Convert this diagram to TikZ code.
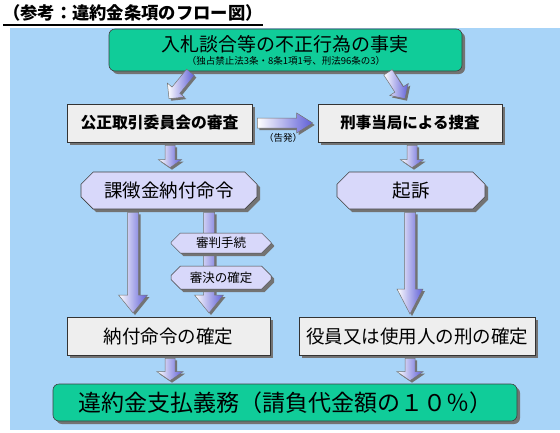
\documentclass[tikz,border=0pt]{standalone}
\usepackage{fontspec}
\setmainfont{Noto Sans CJK JP}
\usetikzlibrary{calc,shapes.misc,shadows}
\definecolor{bgblue}{RGB}{168,212,248}
\definecolor{tealbox}{RGB}{16,204,153}
\definecolor{graybox}{RGB}{238,238,238}
\definecolor{lavbox}{RGB}{216,216,250}
\definecolor{arrblue}{RGB}{95,95,215}
\definecolor{shadowgray}{RGB}{115,115,115}
\newcommand\blockarrow[5]{%
  \coordinate (ba-h) at ($(#2)!#5!(#1)$);
  \coordinate (ba-a1) at ($(#1)!#3!90:(#2)$);
  \coordinate (ba-a2) at ($(#1)!#3!-90:(#2)$);
  \coordinate (ba-h1) at ($(ba-h)!#3!-90:(#1)$);
  \coordinate (ba-h2) at ($(ba-h)!#4!-90:(#1)$);
  \coordinate (ba-h3) at ($(ba-h)!#4!90:(#1)$);
  \coordinate (ba-h4) at ($(ba-h)!#3!90:(#1)$);
  \begin{scope}[transform canvas={shift={(2pt,-2pt)}}]
    \fill[shadowgray] (ba-a1)--(ba-h1)--(ba-h2)--(#2)--(ba-h3)--(ba-h4)--(ba-a2)--cycle;
  \end{scope}
  \path[draw=black!55, line width=0.5pt, left color=white, right color=arrblue]
    (ba-a1)--(ba-h1)--(ba-h2)--(#2)--(ba-h3)--(ba-h4)--(ba-a2)--cycle;
}
\tikzset{
  myshadow/.style={drop shadow={shadow xshift=3pt,shadow yshift=-3pt,fill=shadowgray,opacity=1}},
  tealnode/.style={draw=black!75, line width=0.6pt, fill=tealbox, rounded corners=6pt, myshadow, inner sep=0pt},
  graynode/.style={draw=black!80, line width=0.6pt, fill=graybox, myshadow, inner sep=0pt, minimum height=38pt},
  lavnode/.style={chamfered rectangle, chamfered rectangle xsep=10pt, draw=black!75, line width=0.6pt, fill=lavbox, myshadow, inner sep=0pt},
  smalllav/.style={chamfered rectangle, chamfered rectangle xsep=6pt, draw=black!75, line width=0.5pt, fill=lavbox, myshadow, inner sep=0pt, minimum width=100pt, font=\fontsize{12.5}{14}\selectfont},
}
\begin{document}
\begin{tikzpicture}[x=1pt,y=-1pt]
\useasboundingbox (0,0) rectangle (560,432);
\fill[white] (0,0) rectangle (560,432);
\fill[bgblue] (10,28) rectangle (560,430);
% title
\node[anchor=west, inner sep=0pt, font=\bfseries\fontsize{17.3}{19}\selectfont] (title) at (3,13) {（参考：違約金条項のフロー図）};
\coordinate (ul) at (0,25);
\draw[line width=1.3pt] (title.west |- ul) -- (title.east |- ul);
% nodes
\node[tealnode, minimum width=353pt, minimum height=42pt] (top) at (285.5,50) {};
\node[inner sep=0pt, font=\fontsize{19}{22}\selectfont] (toptext) at (285,44) {入札談合等の不正行為の事実};
\node[inner sep=0pt, font=\fontsize{9.5}{11}\selectfont] (topsub) at (286,61) {（独占禁止法3条・8条1項1号、刑法96条の3）};
\node[graynode, minimum width=185pt, font=\bfseries\fontsize{15.8}{18}\selectfont] (ftc) at (159.5,123) {公正取引委員会の審査};
\node[graynode, minimum width=184pt, font=\bfseries\fontsize{15.5}{18}\selectfont] (keiji) at (410,123) {刑事当局による捜査};
\node[lavnode, minimum width=176pt, minimum height=37pt, font=\fontsize{18.5}{20}\selectfont] (kacho) at (169,190.5) {課徴金納付命令};
\node[lavnode, minimum width=148pt, minimum height=37pt, font=\fontsize{18.5}{20}\selectfont] (kiso) at (411,190.5) {起訴};
% long arrows (behind small boxes)
\blockarrow{$(kacho.south)+(-36,3)$}{$(kacho.south |- 0,317)+(-36,-4)$}{5.5pt}{14.5pt}{18pt}
\blockarrow{$(kacho.south)+(40,3)$}{$(kacho.south |- 0,317)+(40,-4)$}{5.5pt}{14.5pt}{18pt}
\blockarrow{$(kiso.south)+(-1,3)$}{$(kiso.south |- 0,317)+(-1,-3)$}{5.5pt}{13pt}{25pt}
\node[smalllav, minimum height=20pt] (shinpan) at (221,243) {審判手続};
\node[smalllav, minimum height=23pt] (shinketsu) at (221,277.5) {審決の確定};
\node[graynode, minimum width=203pt, font=\fontsize{18.5}{20}\selectfont] (nofu) at (168.5,336) {納付命令の確定};
\node[graynode, minimum width=236pt, font=\fontsize{18.5}{20}\selectfont] (yakuin) at (417,336) {役員又は使用人の刑の確定};
\node[tealnode, minimum width=464pt, minimum height=37pt, font=\fontsize{23}{26}\selectfont] (bottom) at (285,402.5) {違約金支払義務（請負代金額の１０％）};
% other arrows
\blockarrow{$(top.south)+(-95,1)$}{$(ftc.north)+(9.5,-5)$}{5pt}{11pt}{11pt}
\blockarrow{$(top.south)+(102.5,1)$}{$(keiji.north)+(-5,-5)$}{5pt}{11pt}{11pt}
\blockarrow{$(ftc.east)+(5,0)$}{$(keiji.west)+(-5,0)$}{5pt}{10pt}{16pt}
\node[inner sep=0pt, font=\fontsize{9.5}{10}\selectfont] (kokuhatsu) at (283,138) {（告発）};
\blockarrow{$(ftc.south -| kacho.south)+(1,3)$}{$(kacho.north)+(1,-4)$}{5pt}{11.5pt}{8pt}
\blockarrow{$(keiji.south -| kiso.south)+(1,3)$}{$(kiso.north)+(1,-4)$}{5pt}{11.5pt}{8pt}
\blockarrow{$(nofu.south)+(1.5,3)$}{$(nofu.south |- bottom.north)+(1.5,-3)$}{5pt}{13pt}{9pt}
\blockarrow{$(yakuin.south)+(-7,3)$}{$(yakuin.south |- bottom.north)+(-7,-3)$}{5pt}{13pt}{9pt}
\end{tikzpicture}
\end{document}
